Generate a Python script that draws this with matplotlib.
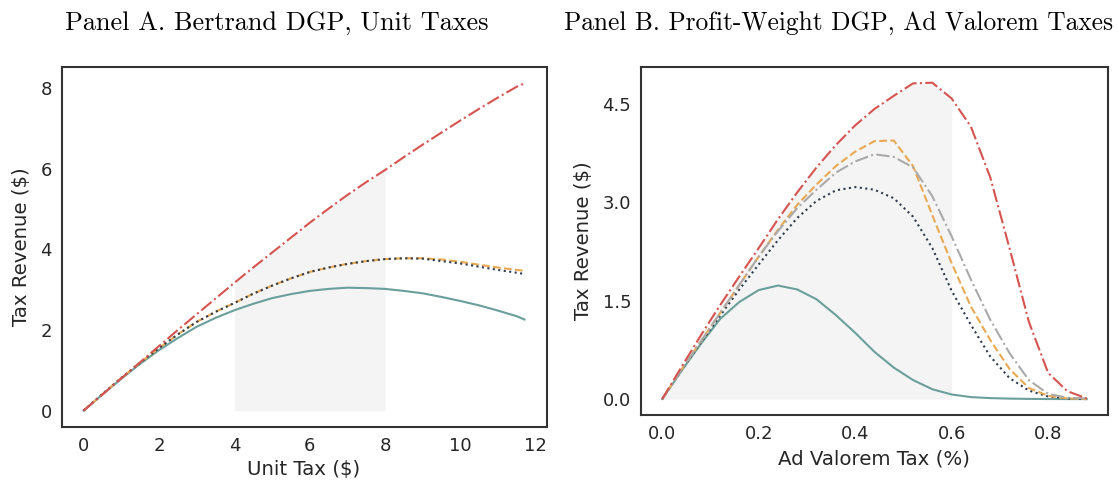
import numpy as np
import matplotlib
matplotlib.use("Agg")
from matplotlib import pyplot as plt

# ---- panel A: Bertrand DGP, unit taxes ----
unit_tax = [0, 0.5, 1, 1.5, 2, 2.5, 3, 3.5, 4, 4.5, 5, 5.5, 6, 6.5, 7, 7.5, 8,
            8.5, 9, 9.5, 10, 10.5, 11, 11.5, 11.7]
a_teal = [0, 0.4, 0.79, 1.16, 1.5, 1.8, 2.08, 2.3, 2.49, 2.65, 2.79, 2.89, 2.97,
          3.02, 3.05, 3.04, 3.02, 2.97, 2.91, 2.82, 2.72, 2.61, 2.48, 2.34, 2.26]
a_dotted = [0, 0.41, 0.81, 1.19, 1.55, 1.89, 2.2, 2.45, 2.67, 2.9, 3.1, 3.28, 3.44,
            3.55, 3.64, 3.71, 3.76, 3.78, 3.77, 3.71, 3.65, 3.57, 3.49, 3.42, 3.39]
a_orange = [0, 0.41, 0.81, 1.19, 1.55, 1.89, 2.2, 2.45, 2.67, 2.9, 3.1, 3.28, 3.44,
            3.55, 3.64, 3.71, 3.76, 3.78, 3.78, 3.75, 3.69, 3.62, 3.55, 3.49, 3.47]
a_red = [0, 0.4, 0.8, 1.2, 1.6, 2.0, 2.39, 2.78, 3.17, 3.55, 3.92, 4.29, 4.66,
         5.01, 5.35, 5.67, 5.97, 6.29, 6.6, 6.9, 7.2, 7.49, 7.77, 8.04, 8.12]
a_band = (4, 8)

# ---- panel B: profit-weight DGP, ad valorem taxes ----
adval_tax = [0, 0.04, 0.08, 0.12, 0.16, 0.2, 0.24, 0.28, 0.32, 0.36, 0.4, 0.44,
             0.48, 0.52, 0.56, 0.6, 0.64, 0.68, 0.72, 0.76, 0.8, 0.84, 0.88]
b_teal = [0, 0.43, 0.84, 1.22, 1.48, 1.66, 1.73, 1.67, 1.52, 1.28, 1.01, 0.72,
          0.48, 0.29, 0.15, 0.07, 0.03, 0.015, 0.007, 0.003, 0.001, 0, 0]
b_dotted = [0, 0.44, 0.86, 1.27, 1.67, 2.05, 2.42, 2.76, 3.02, 3.18, 3.23, 3.19,
            3.06, 2.78, 2.3, 1.65, 1.13, 0.65, 0.32, 0.13, 0.04, 0.01, 0]
b_orange = [0, 0.45, 0.88, 1.31, 1.74, 2.17, 2.58, 2.96, 3.27, 3.55, 3.77, 3.93,
            3.94, 3.55, 2.8, 2.07, 1.41, 0.9, 0.46, 0.17, 0.05, 0.01, 0]
b_gray = [0, 0.45, 0.88, 1.31, 1.74, 2.17, 2.56, 2.91, 3.19, 3.45, 3.62, 3.73,
          3.69, 3.53, 3.09, 2.48, 1.82, 1.21, 0.7, 0.29, 0.08, 0.02, 0.01]
b_red = [0, 0.49, 0.97, 1.43, 1.87, 2.3, 2.74, 3.15, 3.53, 3.87, 4.17, 4.42,
         4.62, 4.81, 4.82, 4.58, 4.15, 3.38, 2.3, 1.18, 0.4, 0.12, 0.01]
b_band = (0, 0.6)

C_TEAL, C_DOT, C_ORANGE = "#6a9f9b", "#2f3b4c", "#e8a952"
C_GRAY, C_RED, C_SHADE = "#aaaaaa", "#d65450", "#f4f4f4"
LW = 1.5
TICK_FS, LABEL_FS = 13, 14.2

fig = plt.figure(figsize=(11.19, 4.83), dpi=100)
axA = fig.add_axes([0.055, 0.116, 0.4334, 0.7453])
axB = fig.add_axes([0.5728, 0.141, 0.4173, 0.7205])


def style(ax):
    for s in ax.spines.values():
        s.set_color("#333333")
        s.set_linewidth(1.5)
    ax.tick_params(length=0, labelsize=TICK_FS, colors="#262626", pad=7)


def shade(ax, x, top, band):
    x = np.asarray(x); top = np.asarray(top)
    m = (x >= band[0] - 1e-9) & (x <= band[1] + 1e-9)
    ax.fill_between(x[m], 0, top[m], color=C_SHADE, lw=0, zorder=0)


# panel A
shade(axA, unit_tax, a_red, a_band)
axA.plot(unit_tax, a_teal, color=C_TEAL, lw=LW, ls="-")
axA.plot(unit_tax, a_orange, color=C_ORANGE, lw=LW, ls="--")
axA.plot(unit_tax, a_dotted, color=C_DOT, lw=LW, ls=":")
axA.plot(unit_tax, a_red, color=C_RED, lw=LW, ls="-.")
axA.set_xticks([0, 2, 4, 6, 8, 10, 12])
axA.set_yticks([0, 2, 4, 6, 8])
axA.set_xlabel("Unit Tax ($)", fontsize=LABEL_FS, color="#262626", labelpad=4)
axA.set_ylabel("Tax Revenue ($)", fontsize=LABEL_FS, color="#262626", labelpad=7)
style(axA)

# panel B
shade(axB, adval_tax, b_red, b_band)
axB.plot(adval_tax, b_teal, color=C_TEAL, lw=LW, ls="-")
axB.plot(adval_tax, b_dotted, color=C_DOT, lw=LW, ls=":")
axB.plot(adval_tax, b_orange, color=C_ORANGE, lw=LW, ls="--")
axB.plot(adval_tax, b_gray, color=C_GRAY, lw=LW, ls="-.")
axB.plot(adval_tax, b_red, color=C_RED, lw=LW, ls="-.")
axB.set_xticks([0.0, 0.2, 0.4, 0.6, 0.8])
axB.set_yticks([0.0, 1.5, 3.0, 4.5])
axB.set_xticklabels(["0.0", "0.2", "0.4", "0.6", "0.8"])
axB.set_yticklabels(["0.0", "1.5", "3.0", "4.5"])
axB.set_xlabel("Ad Valorem Tax (%)", fontsize=LABEL_FS, color="#262626", labelpad=5)
axB.set_ylabel("Tax Revenue ($)", fontsize=LABEL_FS, color="#262626", labelpad=7)
style(axB)

fig.text(0.2475, 0.952, "Panel A. Bertrand DGP, Unit Taxes", family="cmr10",
         fontsize=18.9, ha="center", va="center")
fig.text(0.7497, 0.952, "Panel B. Profit-Weight DGP, Ad Valorem Taxes", family="cmr10",
         fontsize=18.3, ha="center", va="center")

fig.savefig("out.png", dpi=100)
